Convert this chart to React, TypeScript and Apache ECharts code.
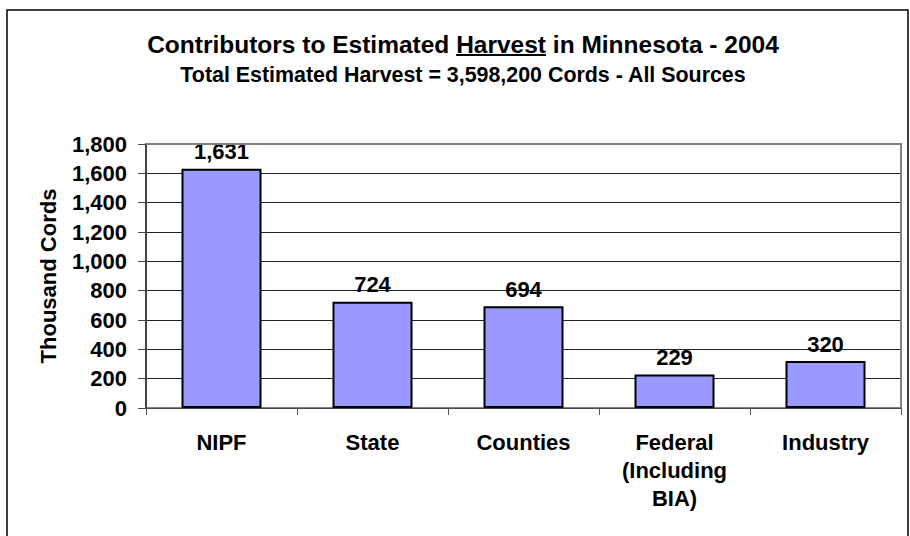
import React, { useEffect, useRef } from "react";
import * as echarts from "echarts";

const categories = ["NIPF", "State", "Counties", "Federal\n(Including\nBIA)", "Industry"];
const values = [1631, 724, 694, 229, 320];
const yTicks = { min: 0, max: 1800, interval: 200 };
const titleParts = ["Contributors to Estimated ", "Harvest", " in Minnesota - 2004"];
const subtitleText = "Total Estimated Harvest = 3,598,200 Cords - All Sources";
const yAxisName = "Thousand Cords";

const FONT = "'Liberation Sans', Arial, sans-serif";
const W = 910;
const H = 536;
const GRID = { left: 146, top: 144, right: 9, bottom: 128 };
const TITLE_CX = 463;

function measure(text: string, font: string): number {
  const c = document.createElement("canvas");
  const ctx = c.getContext("2d");
  if (!ctx) return text.length * 12;
  ctx.font = font;
  return ctx.measureText(text).width;
}

export default function App() {
  const ref = useRef<HTMLDivElement>(null);
  useEffect(() => {
    document.body.style.margin = "0";
    if (!ref.current) return;
    const chart = echarts.init(ref.current, undefined, { renderer: "svg" });

    const titleFont = `bold 24.5px ${FONT}`;
    const fullTitle = titleParts.join("");
    const totalW = measure(fullTitle, titleFont);
    const startX = TITLE_CX - totalW / 2;
    const preW = measure(titleParts[0], titleFont);
    const harvW = measure(titleParts[1], titleFont);
    const ulY = 55;

    const gx1 = GRID.left;
    const gy1 = GRID.top;
    const gx2 = W - GRID.right;
    const gy2 = H - GRID.bottom;

    chart.setOption({
      animation: false,
      backgroundColor: "#ffffff",
      textStyle: { fontFamily: FONT },
      grid: { left: GRID.left, top: GRID.top, right: GRID.right, bottom: GRID.bottom },
      graphic: [
        {
          type: "rect",
          shape: { x: 7, y: 10, width: 901, height: 540 },
          style: { fill: "none", stroke: "#000", lineWidth: 1.5 },
          silent: true,
          z: 0,
        },
        {
          type: "text",
          x: TITLE_CX,
          y: 44,
          style: {
            text: fullTitle,
            font: titleFont,
            fill: "#000",
            align: "center",
            verticalAlign: "middle",
          },
        },
        {
          type: "line",
          shape: { x1: startX + preW, y1: ulY, x2: startX + preW + harvW, y2: ulY },
          style: { stroke: "#000", lineWidth: 2 },
        },
        {
          type: "text",
          x: TITLE_CX,
          y: 75,
          style: {
            text: subtitleText,
            font: `bold 21.4px ${FONT}`,
            fill: "#000",
            align: "center",
            verticalAlign: "middle",
          },
        },
        {
          type: "polyline",
          shape: { points: [[gx1, gy1], [gx2, gy1], [gx2, gy2]] },
          style: { stroke: "#808080", fill: "none", lineWidth: 2 },
          z: 100,
        },
      ],
      xAxis: {
        type: "category",
        data: categories,
        axisLine: { show: true, lineStyle: { color: "#555", width: 1.5 } },
        axisTick: { show: true, alignWithLabel: false, length: 7, lineStyle: { color: "#555" } },
        axisLabel: {
          margin: 20,
          color: "#000",
          fontWeight: "bold",
          fontSize: 22,
          fontFamily: FONT,
          lineHeight: 28,
          interval: 0,
        },
        splitLine: { show: false },
      },
      yAxis: {
        type: "value",
        min: yTicks.min,
        max: yTicks.max,
        interval: yTicks.interval,
        name: yAxisName,
        nameLocation: "middle",
        nameGap: 87,
        nameRotate: 90,
        nameTextStyle: { color: "#000", fontWeight: "bold", fontSize: 22, fontFamily: FONT },
        axisLine: { show: true, lineStyle: { color: "#444", width: 2 } },
        axisTick: { show: true, length: 8, lineStyle: { color: "#444" } },
        axisLabel: {
          margin: 19,
          color: "#000",
          fontWeight: "bold",
          fontSize: 22,
          fontFamily: FONT,
          formatter: (v: number) => v.toLocaleString("en-US"),
        },
        splitLine: { show: true, lineStyle: { color: "#222", width: 1 } },
      },
      series: [
        {
          type: "bar",
          data: values,
          barWidth: 80,
          itemStyle: { color: "#9999FF", borderColor: "#000", borderWidth: 2 },
          label: {
            show: true,
            position: "top",
            distance: 6,
            color: "#000",
            fontWeight: "bold",
            fontSize: 22,
            fontFamily: FONT,
            formatter: (p: any) => Number(p.value).toLocaleString("en-US"),
          },
        },
      ],
    });
    return () => chart.dispose();
  }, []);
  return <div ref={ref} style={{ width: W, height: H }} />;
}
